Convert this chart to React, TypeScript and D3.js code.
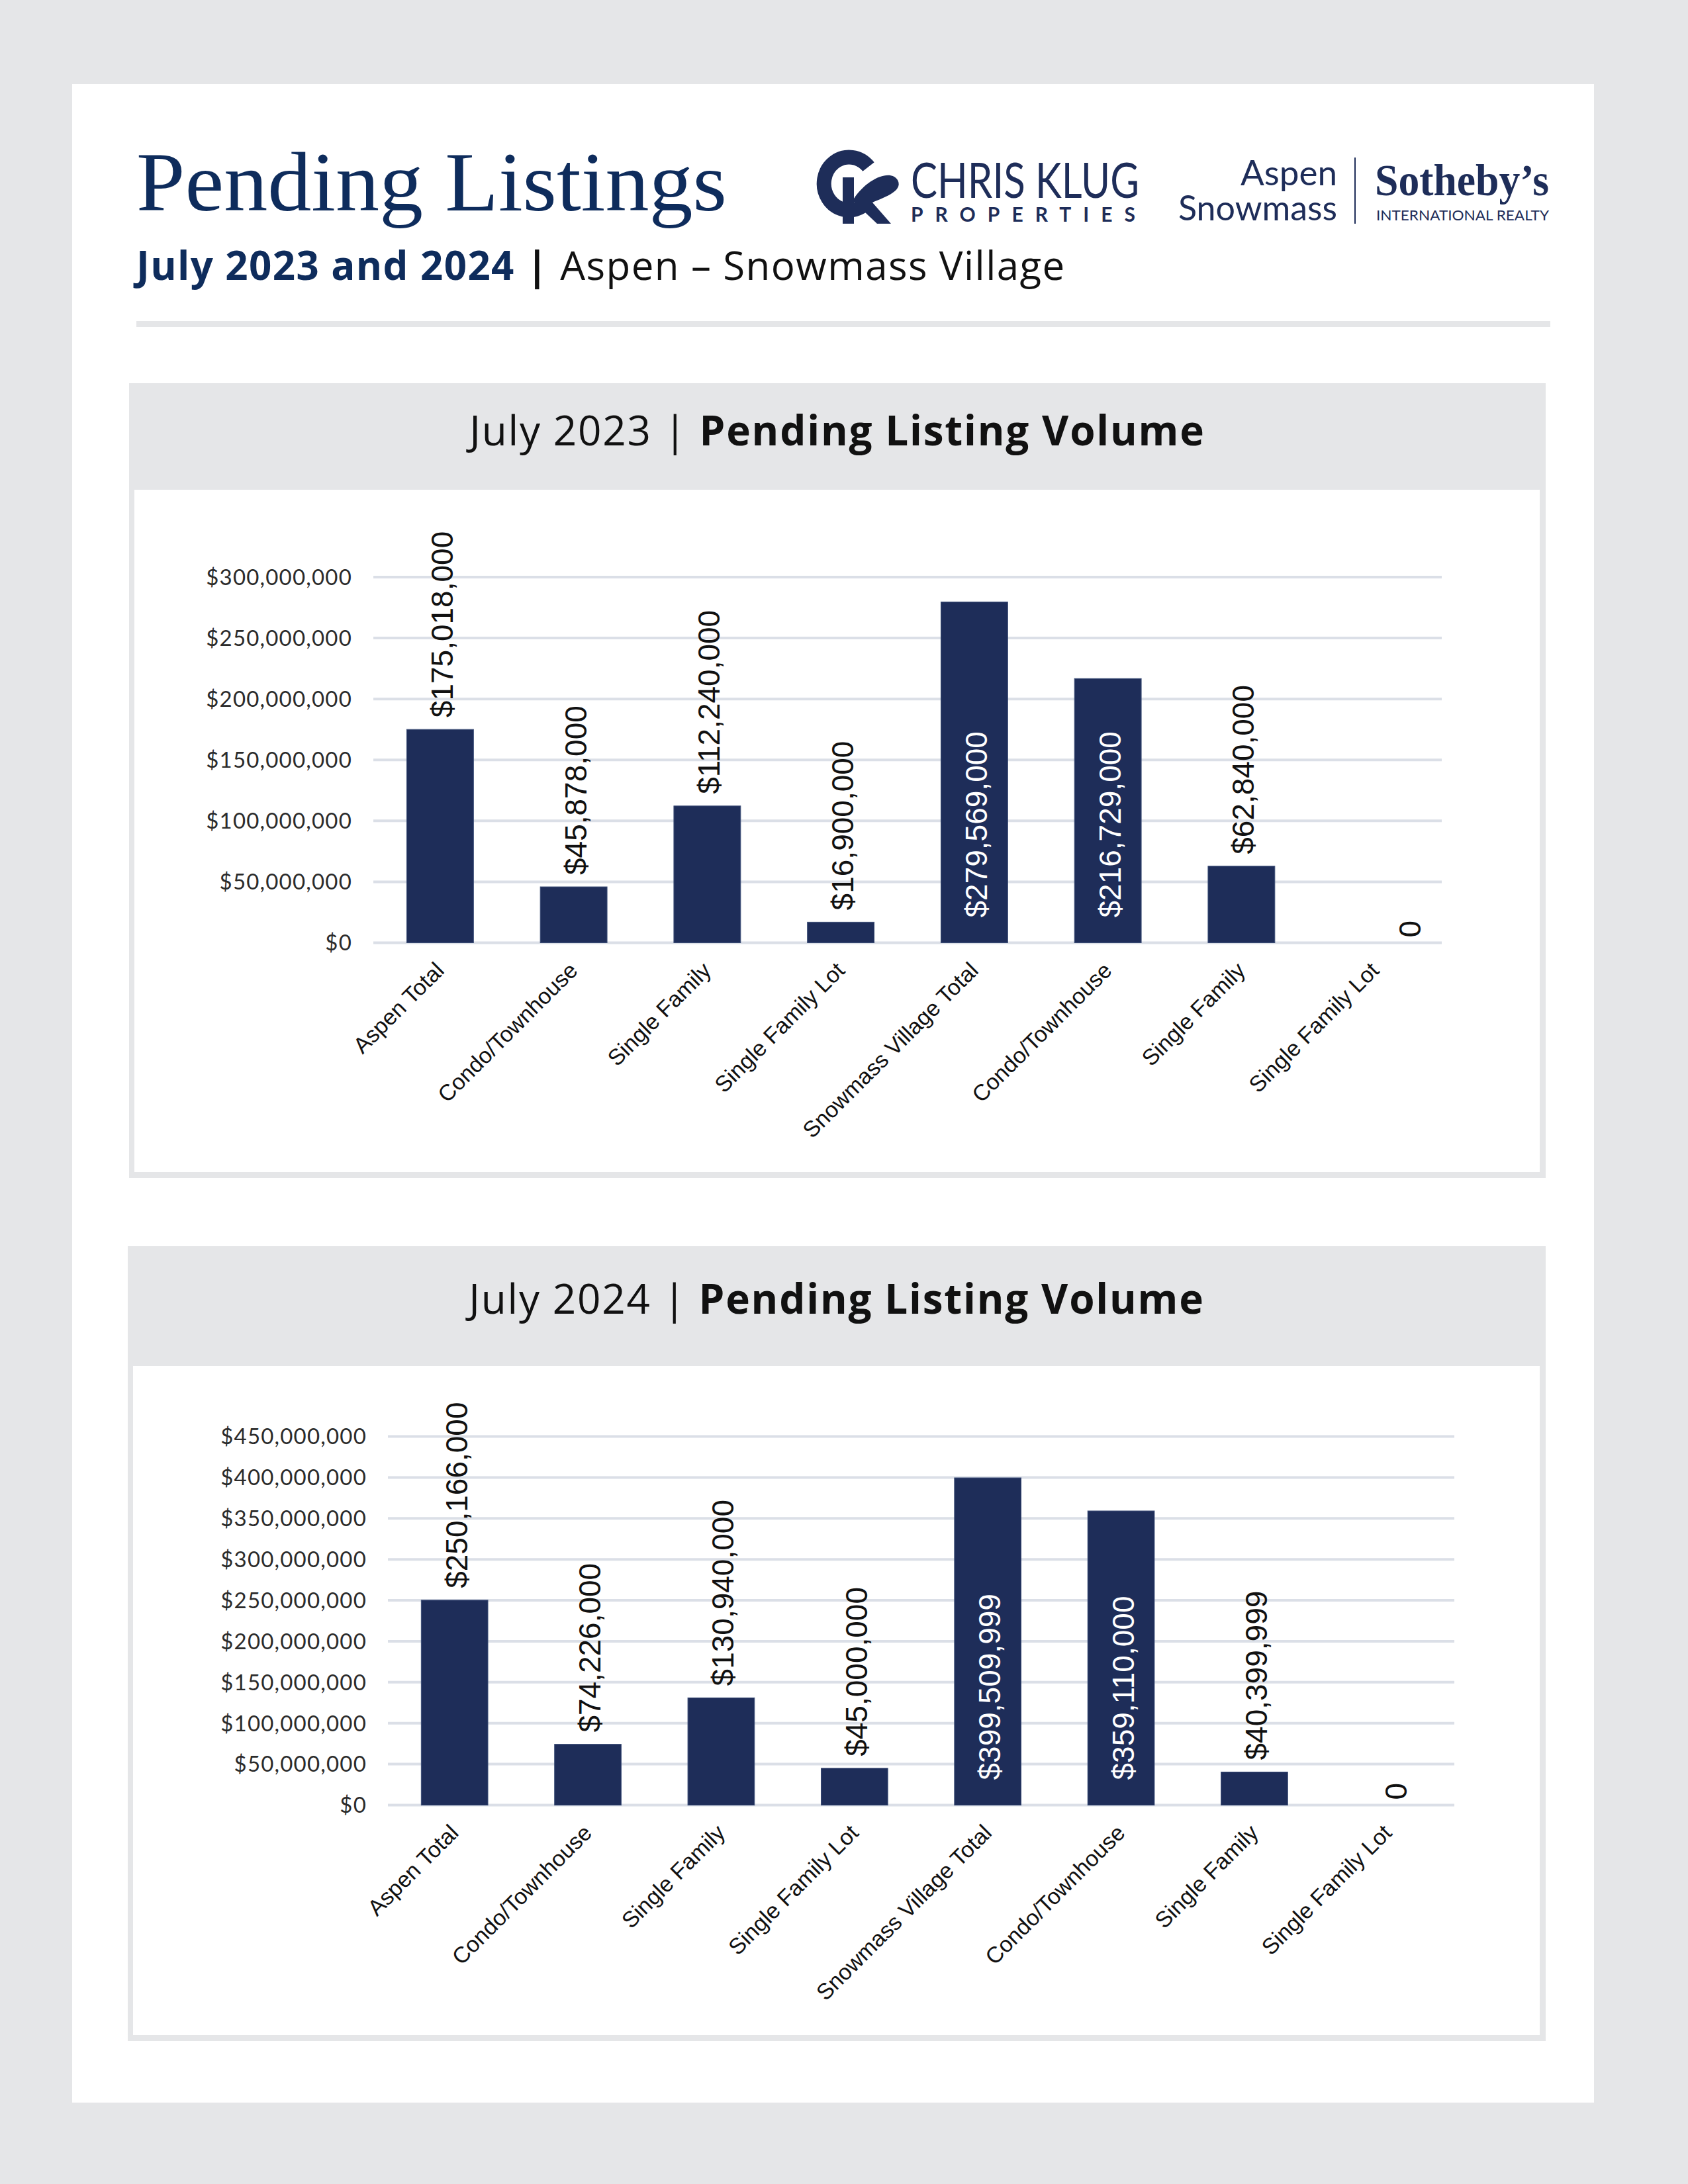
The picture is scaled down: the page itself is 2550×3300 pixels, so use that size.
import React from "react";
import * as d3 from "d3";

// ---------- data ----------
const categories = [
  "Aspen Total",
  "Condo/Townhouse",
  "Single Family",
  "Single Family Lot",
  "Snowmass Village Total",
  "Condo/Townhouse",
  "Single Family",
  "Single Family Lot",
];
const values2023 = [175018000, 45878000, 112240000, 16900000, 279569000, 216729000, 62840000, 0];
const values2024 = [250166000, 74226000, 130940000, 45000000, 399509999, 359110000, 40399999, 0];
const ticks2023 = [0, 50000000, 100000000, 150000000, 200000000, 250000000, 300000000];
const ticks2024 = [0, 50000000, 100000000, 150000000, 200000000, 250000000, 300000000, 350000000, 400000000, 450000000];
const chartTitles = ["July 2023", "July 2024"];
const chartSubtitle = "Pending Listing Volume";

// ---------- style ----------
const NAVY = "#1e2d59";
const TITLE_NAVY = "#0e2c5c";
const GRAY = "#e5e6e8";
const GRID = "#dbdfe7";
const SANS = "Lato, 'Open Sans', sans-serif";
const HEAD_SANS = "'Open Sans', Lato, sans-serif";
const LABEL_FONT = "'Liberation Sans', Arial, sans-serif";
const LABEL_SIZE = 46;

type Box = { x: number; y: number; w: number; h: number; headerBottom: number; titleBaseline: number; zeroDx: number };
type Plot = { x0: number; x1: number; yTop: number; yBottom: number; tickRight: number };

function estLen(s: string, size: number) {
  let l = 0;
  for (const ch of s) l += ch === "," ? 0.278 : 0.556;
  return l * size;
}

function Chart({ box, plot, values, ticks, title }: { box: Box; plot: Plot; values: number[]; ticks: number[]; title: string }) {
  const x = d3
    .scaleBand<number>()
    .domain(d3.range(values.length))
    .range([plot.x0, plot.x1])
    .paddingInner(0.5)
    .paddingOuter(0.25);
  const y = d3.scaleLinear().domain([0, d3.max(ticks) as number]).range([plot.yBottom, plot.yTop]);
  const fmtTick = d3.format("$,");
  const fmtVal = (v: number) => (v === 0 ? "0" : d3.format("$,")(v));
  const border = 8;
  const cxPanel = box.x + box.w / 2;
  const gap = 18;

  return (
    <g>
      <rect x={box.x} y={box.y} width={box.w} height={box.h} fill={GRAY} />
      <rect
        x={box.x + border}
        y={box.headerBottom}
        width={box.w - 2 * border - 1}
        height={box.y + box.h - border - 1 - box.headerBottom}
        fill="#ffffff"
      />
      <text x={cxPanel} y={box.titleBaseline} textAnchor="middle" fontFamily={HEAD_SANS} fontSize={62} letterSpacing={1.8} fill="#111">
        <tspan fontWeight={400}>{title} | </tspan>
        <tspan fontWeight={700}>{chartSubtitle}</tspan>
      </text>

      {/* gridlines */}
      {ticks.map((t) => (
        <line key={"g" + t} x1={plot.x0} x2={plot.x1} y1={y(t)} y2={y(t)} stroke={GRID} strokeWidth={4} />
      ))}
      {/* y tick labels */}
      {ticks.map((t) => (
        <text
          key={"t" + t}
          x={plot.tickRight}
          y={y(t)}
          dy="0.36em"
          textAnchor="end"
          fontFamily={SANS}
          fontSize={33}
          letterSpacing={1.2}
          fill="#2b2b2b"
        >
          {fmtTick(t)}
        </text>
      ))}

      {/* bars */}
      {values.map((v, i) => (
        <rect
          key={"b" + i}
          x={x(i)}
          y={y(v)}
          width={x.bandwidth()}
          height={plot.yBottom - y(v)}
          fill={NAVY}
          stroke="#3d4f78"
          strokeWidth={v > 0 ? 1 : 0}
        />
      ))}

      {/* value labels */}
      {values.map((v, i) => {
        const label = fmtVal(v);
        const cx = (x(i) as number) + x.bandwidth() / 2;
        const top = y(v);
        const len = estLen(label, LABEL_SIZE);
        const inside = top - gap - len < box.headerBottom + 4;
        if (inside) {
          return (
            <text
              key={"l" + i}
              transform={`translate(${cx + 19},${plot.yBottom - 38}) rotate(-90)`}
              fontFamily={LABEL_FONT}
              fontSize={LABEL_SIZE}
              fill="#ffffff"
            >
              {label}
            </text>
          );
        }
        const dx = v === 0 ? box.zeroDx : 0;
        return (
          <text
            key={"l" + i}
            transform={`translate(${cx + 19 + dx},${top - (v === 0 ? 8 : gap)}) rotate(-90)`}
            fontFamily={LABEL_FONT}
            fontSize={LABEL_SIZE}
            fill="#111"
          >
            {label}
          </text>
        );
      })}

      {/* x labels */}
      {categories.map((c, i) => {
        const cx = (x(i) as number) + x.bandwidth() / 2;
        return (
          <text
            key={"x" + i}
            transform={`translate(${cx + 8},${plot.yBottom + 44}) rotate(-45)`}
            textAnchor="end"
            fontFamily={LABEL_FONT}
            fontSize={34}
            fill="#111"
          >
            {c}
          </text>
        );
      })}
    </g>
  );
}

function Header() {
  return (
    <g>
      <text x={206} y={318} fontFamily="'Liberation Serif', 'DejaVu Serif', serif" fontSize={128} fill={TITLE_NAVY} textLength={892} lengthAdjust="spacingAndGlyphs">
        Pending Listings
      </text>
      <text x={206} y={423} fontFamily={HEAD_SANS} fontSize={60} letterSpacing={1.4}>
        <tspan fontWeight={700} fill={TITLE_NAVY}>July 2023 and 2024 </tspan>
        <tspan fontWeight={700} fill="#111">| </tspan>
        <tspan fontWeight={400} fill="#111">Aspen – Snowmass Village</tspan>
      </text>
      <rect x={206} y={485} width={2136} height={9} fill={GRAY} />

      {/* CK monogram */}
      <g fill={NAVY}>
        <path d="M1312,252 A38,40 0 1 0 1302,312" fill="none" stroke={NAVY} strokeWidth={22} />
        <rect x={1273} y={268} width={17} height={70} />
        <path d="M1290,300 C1310,270 1345,255 1356,272 C1366,290 1330,300 1318,306 L1346,338 L1325,338 L1290,305 Z" />
      </g>
      <text x={1376} y={299} fontFamily={SANS} fontSize={74} fontWeight={400} fill={NAVY} textLength={345} lengthAdjust="spacingAndGlyphs">
        CHRIS KLUG
      </text>
      <text x={1376} y={335} fontFamily={SANS} fontSize={30} fontWeight={700} fill={NAVY} textLength={339} lengthAdjust="spacing">
        PROPERTIES
      </text>

      {/* Aspen Snowmass Sotheby's */}
      <text x={2020} y={280} textAnchor="end" fontFamily={SANS} fontSize={53} fontWeight={400} fill={NAVY}>
        Aspen
      </text>
      <text x={1780} y={333} fontFamily={SANS} fontSize={53} fontWeight={400} fill={NAVY} textLength={240} lengthAdjust="spacingAndGlyphs">
        Snowmass
      </text>
      <line x1={2047} x2={2047} y1={238} y2={338} stroke={NAVY} strokeWidth={2} />
      <text x={2077} y={295} fontFamily="'Liberation Serif', 'DejaVu Serif', serif" fontSize={68} fontWeight={700} fill={NAVY} textLength={263} lengthAdjust="spacingAndGlyphs">
        Sotheby’s
      </text>
      <text x={2079} y={333} fontFamily={SANS} fontSize={22} fill={NAVY} textLength={261} lengthAdjust="spacingAndGlyphs">
        INTERNATIONAL REALTY
      </text>
    </g>
  );
}

export default function App() {
  const box1: Box = { x: 195, y: 579, w: 2140, h: 1201, headerBottom: 740, titleBaseline: 673, zeroDx: 50 };
  const plot1: Plot = { x0: 564, x1: 2178, yTop: 872, yBottom: 1424.5, tickRight: 532 };
  const box2: Box = { x: 193, y: 1883, w: 2142, h: 1201, headerBottom: 2064, titleBaseline: 1985, zeroDx: 10 };
  const plot2: Plot = { x0: 586, x1: 2197, yTop: 2170.5, yBottom: 2727.5, tickRight: 554 };
  return (
    <svg
      width={2550}
      height={3300}
      viewBox="0 0 2550 3300"
      style={{ position: "absolute", left: 0, top: 0, display: "block" }}
    >
      <rect x={0} y={0} width={2550} height={3300} fill={GRAY} />
      <rect x={109} y={127} width={2299} height={3050} fill="#ffffff" />
      <Header />
      <Chart box={box1} plot={plot1} values={values2023} ticks={ticks2023} title={chartTitles[0]} />
      <Chart box={box2} plot={plot2} values={values2024} ticks={ticks2024} title={chartTitles[1]} />
    </svg>
  );
}
